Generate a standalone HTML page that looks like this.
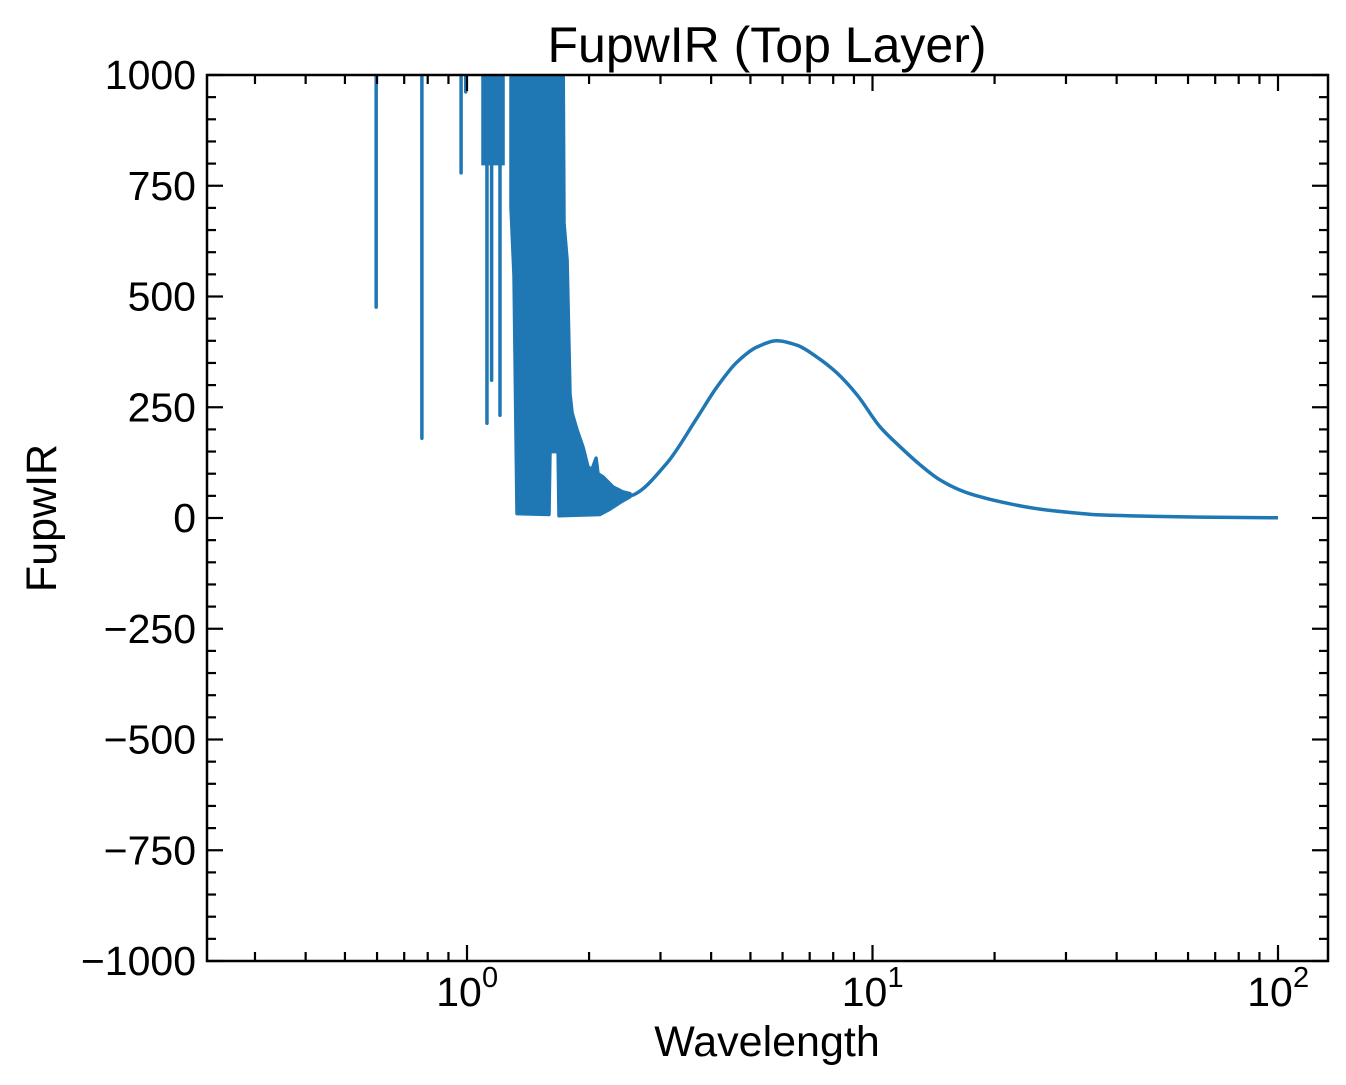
<!DOCTYPE html>
<html><head><meta charset="utf-8"><style>
html,body{margin:0;padding:0;background:#fff;}
svg{display:block;font-family:"Liberation Sans",Arial,sans-serif;}
</style></head><body>
<svg id="chart" width="1346" height="1085" viewBox="0 0 1346 1085" xmlns="http://www.w3.org/2000/svg">
<defs><clipPath id="plotclip"><rect x="207" y="75" width="1121" height="886"/></clipPath></defs>
<text x="767" y="62" font-size="50" text-anchor="middle">FupwIR (Top Layer)</text>
<text x="767" y="1056" font-size="43" text-anchor="middle">Wavelength</text>
<text x="0" y="0" font-size="43" text-anchor="middle" transform="translate(56,518) rotate(-90)">FupwIR</text>
<g id="series" clip-path="url(#plotclip)"></g>
<g id="ticks"></g>
<rect x="207" y="75" width="1121" height="886" fill="none" stroke="#000" stroke-width="2.5"/>
</svg>
<script>
// data
const spikeLambda = [0.597, 0.774, 0.967, 0.993, 1.12, 1.15, 1.206];
const spikeMin = [476, 180, 779, 962, 214, 311, 232];
const blockStart = [1.095];
const blockEnd = [1.227];
const blockMin = [800];
const hiLambda = [1.284, 1.725, 1.735, 1.765, 1.795, 1.816, 1.867, 1.932, 1.988, 2.034, 2.081, 2.104, 2.165, 2.291, 2.425, 2.523];
const hiVal = [1100, 1100, 666, 582, 280, 237, 199, 160, 115, 110, 135, 100, 93, 70, 59, 55];
const loLambda = [1.284, 1.306, 1.328, 1.593, 1.602, 1.677, 1.686, 2.128, 2.253, 2.384, 2.523];
const loVal = [702, 548, 10, 8, 150, 150, 5, 8, 20, 35, 48];
const curveLambda = [2.523, 2.567, 3.112, 3.692, 4.135, 4.633, 5.191, 5.814, 6.514, 7.298, 8.177, 9.159, 10.43, 11.69, 13.10, 14.67, 16.44, 18.41, 21.83, 25.89, 31.94, 36.4, 64.3, 100];
const curveVal = [50, 52, 124, 226, 296, 352, 386, 400, 390, 363, 327, 278, 206, 161, 120, 86, 63, 48, 32, 20, 11, 7, 2, 0.5];
const yTicks = [1000, 750, 500, 250, 0, -250, -500, -750, -1000];
const yTickLabels = ["1000", "750", "500", "250", "0", "\u2212250", "\u2212500", "\u2212750", "\u22121000"];
const xTicks = [1, 10, 100];
const xTickExp = ["0", "1", "2"];

const L=207,R=1328,T=75,B=961;
const lmin=-0.6412, lmax=2.1233;
function X(l){return L+(Math.log10(l)-lmin)/(lmax-lmin)*(R-L);}
function Y(v){return T+(1000-v)/2000*(B-T);}
const NS="http://www.w3.org/2000/svg";
function mk(tag,attrs,parent){const e=document.createElementNS(NS,tag);for(const k in attrs)e.setAttribute(k,attrs[k]);parent.appendChild(e);return e;}
const S=document.getElementById('series'), TK=document.getElementById('ticks'), svg=document.getElementById('chart');
const C="#1f77b4", SW=3.5;
let pts=[];
for(let i=0;i<hiLambda.length;i++)pts.push(X(hiLambda[i]).toFixed(1)+","+Y(hiVal[i]).toFixed(1));
for(let i=loLambda.length-1;i>=0;i--)pts.push(X(loLambda[i]).toFixed(1)+","+Y(loVal[i]).toFixed(1));
const env=mk('polygon',{points:pts.join(" "),fill:C,stroke:C,'stroke-width':SW,'stroke-linejoin':'round'},S);


for(let i=0;i<blockStart.length;i++){
  const b=mk('polygon',{points:`${X(blockStart[i])},${Y(1100)} ${X(blockEnd[i])},${Y(1100)} ${X(blockEnd[i])},${Y(blockMin[i])} ${X(blockStart[i])},${Y(blockMin[i])}`,fill:C,stroke:C,'stroke-width':SW},S);
  
  
}
for(let i=0;i<spikeLambda.length;i++){
  const s=mk('line',{x1:X(spikeLambda[i]),x2:X(spikeLambda[i]),y1:Y(1100),y2:Y(spikeMin[i]),stroke:C,'stroke-width':SW,'stroke-linecap':'round'},S);
  
  
}
const xs=curveLambda.map(X), ys=curveVal.map(Y), n=xs.length;
const dk=[], m=new Array(n);
for(let i=0;i<n-1;i++)dk.push((ys[i+1]-ys[i])/(xs[i+1]-xs[i]));
m[0]=dk[0]; m[n-1]=dk[n-2];
for(let i=1;i<n-1;i++){
  if(dk[i-1]*dk[i]<=0)m[i]=0;
  else{const h0=xs[i]-xs[i-1],h1=xs[i+1]-xs[i];const w1=2*h1+h0,w2=h1+2*h0;m[i]=(w1+w2)/(w1/dk[i-1]+w2/dk[i]);}
}
let d="M"+xs[0].toFixed(1)+","+ys[0].toFixed(1);
for(let i=0;i<n-1;i++){
  const h=xs[i+1]-xs[i];
  d+=` C${(xs[i]+h/3).toFixed(1)},${(ys[i]+m[i]*h/3).toFixed(1)} ${(xs[i+1]-h/3).toFixed(1)},${(ys[i+1]-m[i+1]*h/3).toFixed(1)} ${xs[i+1].toFixed(1)},${ys[i+1].toFixed(1)}`;
}
const cl=mk('path',{d:d,fill:'none',stroke:C,'stroke-width':SW,'stroke-linejoin':'round'},S);


function tick(x1,y1,x2,y2){mk('line',{x1,y1,x2,y2,stroke:'#000','stroke-width':2.2},TK);}
for(let v=-1000;v<=1000;v+=50){
  const y=Y(v), major=(v%250===0), len=major?16:9;
  tick(L,y,L+len,y); tick(R,y,R-len,y);
}
yTicks.forEach((v,i)=>{
  const t=mk('text',{x:196,y:Y(v)+14,'font-size':41,'text-anchor':'end'},svg);
  t.textContent=yTickLabels[i];
  
  
});
for(let dd=-1;dd<=2;dd++){
  for(let k=1;k<=9;k++){
    const l=k*Math.pow(10,dd), lg=Math.log10(l);
    if(lg<lmin||lg>lmax)continue;
    const x=X(l), len=k===1?16:9;
    tick(x,B,x,B-len); tick(x,T,x,T+len);
  }
}
xTicks.forEach((v,i)=>{
  const t=mk('text',{x:X(v)-8,y:1006,'font-size':41,'text-anchor':'middle'},svg);
  t.textContent="10";
  
  
  const e=mk('text',{x:X(v)+15,y:987,'font-size':29,'text-anchor':'start'},svg);
  e.textContent=xTickExp[i];
  
  
});
</script>
</body></html>
